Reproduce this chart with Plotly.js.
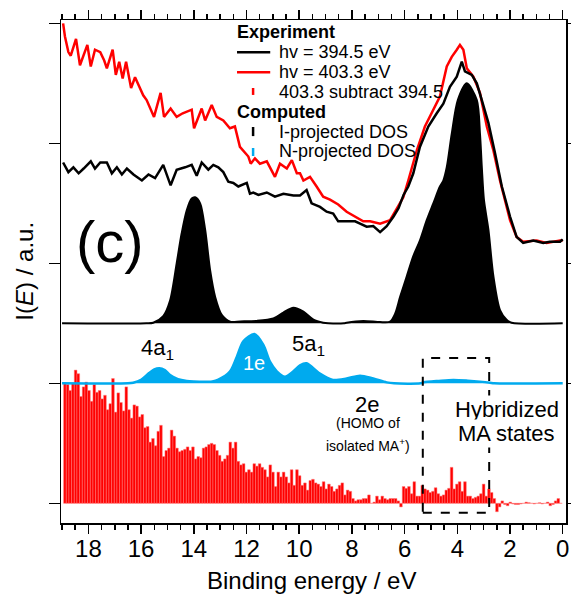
<!DOCTYPE html>
<html>
<head>
<meta charset="utf-8">
<script src="https://cdn.plot.ly/plotly-3.0.1.min.js"></script>
<style>html,body{margin:0;padding:0;background:#fff;}#chart{width:571px;height:600px;}</style>
</head>
<body>
<div id="chart"></div>
<script>
// ---------- data (binding energy in eV, intensities in arbitrary units) ----------
// Experiment hv = 403.3 eV (red line)
const redX = [18.96,18.89,18.76,18.67,18.47,18.32,18.04,17.91,17.75,17.55,
  17.40,17.30,17.08,16.96,16.83,16.70,16.57,16.38,16.23,16.04,
  15.92,15.79,15.51,15.26,15.13,14.88,14.65,14.42,14.08,13.99,
  13.70,13.57,13.32,13.13,12.88,12.63,12.44,12.25,11.93,11.84,
  11.68,11.49,11.23,10.92,10.73,10.47,10.28,10.09,9.97,9.84,
  9.59,9.34,9.09,8.83,8.52,8.20,7.88,7.57,7.31,6.93,
  6.55,6.30,6.05,5.86,5.54,5.23,4.91,4.66,4.40,4.21,
  4.02,3.90,3.77,3.64,3.39,3.14,2.88,2.63,2.38,2.00,
  1.75,1.50,0.99,0.61,0.10,0.0];
const redY = [4.00,3.89,3.76,3.73,3.87,3.65,3.82,3.64,3.78,3.76,
  3.69,3.625,3.78,3.57,3.68,3.54,3.68,3.46,3.55,3.46,
  3.40,3.36,3.22,3.42,3.22,3.29,3.22,3.25,3.28,3.125,
  3.29,3.19,3.32,3.22,3.19,3.125,3.14,2.97,2.89,2.83,
  2.875,2.83,2.85,2.72,2.83,2.79,2.86,2.75,2.75,2.69,
  2.72,2.64,2.555,2.53,2.49,2.43,2.39,2.35,2.35,2.33,
  2.36,2.46,2.55,2.69,2.94,3.14,3.28,3.39,3.64,3.72,
  3.78,3.82,3.78,3.625,3.555,3.42,3.14,2.94,2.69,2.36,
  2.22,2.18,2.19,2.17,2.19,2.19];
// Experiment hv = 394.5 eV (black line)
const blackX = [18.96,18.76,18.57,18.37,18.18,17.91,17.75,17.55,17.30,17.11,
  16.92,16.73,16.54,16.29,15.97,15.72,15.47,15.28,15.16,14.88,
  14.65,14.33,14.08,13.89,13.70,13.45,13.26,13.07,12.88,12.69,
  12.50,12.31,11.99,11.87,11.74,11.55,11.23,10.92,10.60,10.22,
  9.97,9.72,9.53,9.21,8.96,8.71,8.52,8.20,7.88,7.69,
  7.44,7.19,6.93,6.68,6.42,6.23,6.04,5.86,5.67,5.42,
  5.10,4.78,4.53,4.28,4.02,3.83,3.71,3.45,3.26,3.07,
  2.82,2.57,2.31,2.00,1.75,1.50,1.12,0.74,0.49,0.10,0.0];
const blackY = [2.84,2.76,2.80,2.75,2.79,2.85,2.79,2.84,2.84,2.75,
  2.80,2.74,2.79,2.74,2.69,2.74,2.71,2.78,2.82,2.65,
  2.78,2.80,2.82,2.73,2.84,2.78,2.82,2.80,2.76,2.68,
  2.67,2.64,2.67,2.58,2.59,2.57,2.59,2.555,2.58,2.565,
  2.565,2.61,2.50,2.47,2.43,2.415,2.35,2.35,2.35,2.33,
  2.305,2.31,2.26,2.31,2.39,2.46,2.57,2.64,2.75,2.97,
  3.14,3.25,3.33,3.47,3.555,3.68,3.60,3.57,3.50,3.36,
  3.17,2.92,2.64,2.39,2.22,2.17,2.19,2.17,2.18,2.18,2.20];
// 403.3 subtract 394.5 (red bars), first bar at 18.89 eV, step ~0.1 eV towards 0
const diffStart = 18.89;
const diffStep = -0.1012;
const diffY = [1.0,0.99,0.94,1.0,1.11,1.08,0.89,0.97,1.01,0.94,
  0.85,0.99,0.925,0.94,0.87,0.90,0.78,0.83,1.04,0.76,
  0.92,0.84,0.77,0.97,0.78,0.71,0.82,0.81,0.72,0.74,
  0.63,0.64,0.51,0.54,0.48,0.60,0.65,0.39,0.44,0.46,
  0.61,0.56,0.46,0.43,0.44,0.45,0.47,0.44,0.47,0.37,
  0.39,0.38,0.46,0.47,0.49,0.50,0.49,0.44,0.40,0.35,
  0.37,0.40,0.51,0.46,0.51,0.35,0.32,0.33,0.26,0.28,
  0.26,0.33,0.31,0.33,0.30,0.28,0.22,0.32,0.26,0.14,
  0.26,0.22,0.26,0.22,0.17,0.28,0.15,0.28,0.23,
  0.15,0.17,0.11,0.19,0.20,0.17,0.16,0.14,0.18,0.12,
  0.16,0.14,0.10,0.12,0.15,0.17,0.07,0.11,0.10,0.04,
  0.02,0.03,0.03,0.04,0.04,0.07,0.0,0.01,0.06,0.03,
  0.06,0.04,0.03,0.04,0.04,0.04,0.02,-0.03,0.14,0.125,
  0.14,0.08,0.18,0.06,0.06,0.15,0.12,0.11,0.09,0.10,
  0.13,0.08,0.06,0.07,0.11,0.125,0.30,0.12,0.16,0.18,
  0.10,0.18,0.06,0.06,0.04,0.05,0.06,0.08,0.16,0.06,
  0.12,0.09,0.04,-0.07,-0.03,0.02,-0.01,-0.02,0.01,-0.005,
  -0.01,-0.01,-0.005,0.0,0.01,0.005,0.0,-0.005,0.0,0.005,
  -0.005,0.0,0.01,-0.02,-0.01,0.02,0.04,0.0];
// Computed I-projected DOS (black fill)
const idosX = [19.0,15.8,15.54,15.16,14.9,14.65,14.46,14.27,14.08,13.95,
  13.76,13.57,13.38,13.19,12.94,12.62,12.24,11.61,10.98,10.60,
  10.22,9.84,9.46,9.09,8.9,8.3,8.20,7.57,6.93,6.55,
  6.36,6.17,5.92,5.67,5.42,5.16,4.91,4.66,4.53,4.40,
  4.21,3.98,3.64,3.26,3.14,3.07,2.99,2.82,2.63,2.38,
  2.13,1.94,0.0];
const idosY = [0,0,0.005,0.06,0.19,0.5,0.75,0.94,1.04,1.05,
  1.0,0.78,0.44,0.22,0.07,0.014,0.016,0.02,0.04,0.09,
  0.13,0.097,0.03,0.005,0,0,0.005,0.02,0.01,0.014,
  0.08,0.22,0.39,0.56,0.69,0.86,1.0,1.14,1.19,1.30,
  1.58,1.86,2.0,1.86,1.58,1.30,1.03,0.78,0.39,0.11,
  0.03,0.005,0];
// Computed N-projected DOS (blue fill)
const ndosX = [19.0,16.5,16.3,16.0,15.7,15.5,15.31,15.1,14.9,14.6,
  14.27,14.0,13.6,13.3,13.07,12.63,12.37,12.12,11.70,11.36,
  11.11,10.85,10.54,10.22,9.97,9.72,9.23,8.72,8.20,7.69,
  7.19,6.68,6.4,5.4,5.29,4.7,4.15,3.6,3.14,2.76,
  2.6,0.0];
const ndosY = [0,0,0.005,0.03,0.085,0.115,0.125,0.11,0.07,0.035,
  0.02,0.015,0.012,0.015,0.03,0.097,0.22,0.35,0.41,0.32,
  0.18,0.10,0.055,0.10,0.15,0.167,0.083,0.028,0.04,0.064,
  0.04,0.008,0,0,0.008,0.02,0.028,0.022,0.014,0.005,
  0,0];

const xTickVals = [18,16,14,12,10,8,6,4,2,0];
const xTitle = 'Binding energy / eV';
const yTitle = 'I(<i>E</i>) / a.u.';

// ---------- layout helpers ----------
const FONT = "'Liberation Sans', Arial, sans-serif";
const R0 = -0.164, R1 = 4.0275;            // main y range (tick spacing 1 unit)
const rng = off => [R0 - off, R1 - off];   // shifted ranges for stacked baselines

const traces = [
  {type:'bar', x0: diffStart, dx: diffStep, y: diffY, yaxis:'y',
   marker:{color:'#ff0000', line:{color:'#ff7878', width:0.5}}, hoverinfo:'skip'},
  {type:'scatter', mode:'lines', x: ndosX, y: ndosY, yaxis:'y2', fill:'tozeroy',
   fillcolor:'#00aaee', line:{color:'#00aaee', width:2.5, shape:'spline', smoothing:0.8}},
  {type:'scatter', mode:'lines', x: idosX, y: idosY, yaxis:'y3', fill:'tozeroy',
   fillcolor:'#000000', line:{color:'#000000', width:2, shape:'spline', smoothing:0.8}},
  {type:'scatter', mode:'lines', x: redX, y: redY, yaxis:'y4',
   line:{color:'#ff0000', width:2.5}},
  {type:'scatter', mode:'lines', x: blackX, y: blackY, yaxis:'y4',
   line:{color:'#000000', width:2.5}}
];

const ann = (x, y, text, size, extra) => Object.assign({x, y, xref:'x', yref:'y', text, showarrow:false,
  xanchor:'center', yanchor:'middle',
  font:{family:FONT, size, color:'#000'}}, extra || {});

const annotations = [
  ann(17.17, 2.18, '(c)', 58),
  ann(15.39, 1.29, '4a<sub>1</sub>', 22),
  ann(11.70, 1.17, '1e', 20, {font:{family:FONT, size:20, color:'#ffffff'}}),
  ann(9.66, 1.32, '5a<sub>1</sub>', 22),
  ann(7.43, 0.82, '2e', 22),
  ann(7.39, 0.67, '(HOMO of', 14),
  ann(7.39, 0.486, 'isolated MA<sup>+</sup>)', 14),
  ann(2.13, 0.78, 'Hybridized', 22, {bgcolor:'#ffffff', borderpad:1}),
  ann(2.13, 0.58, 'MA states', 22, {bgcolor:'#ffffff', borderpad:1}),
  // legend texts
  ann(12.44, 3.93, '<b>Experiment</b>', 18, {xanchor:'left'}),
  ann(10.84, 3.758, 'hv = 394.5 eV', 18, {xanchor:'left'}),
  ann(10.84, 3.592, 'hv = 403.3 eV', 18, {xanchor:'left'}),
  ann(10.84, 3.43, '403.3 subtract 394.5', 18, {xanchor:'left'}),
  ann(12.44, 3.263, '<b>Computed</b>', 18, {xanchor:'left'}),
  ann(10.84, 3.097, 'I-projected DOS', 18, {xanchor:'left'}),
  ann(10.84, 2.936, 'N-projected DOS', 18, {xanchor:'left'}),
  // axis titles
  {xref:'paper', yref:'paper', x:0.497, y:-0.115, xanchor:'center', yanchor:'middle',
   text:xTitle, showarrow:false, font:{family:FONT, size:24, color:'#000'}},
  {xref:'paper', yref:'paper', x:-0.073, y:0.5, xanchor:'center', yanchor:'middle',
   text:yTitle, showarrow:false, textangle:-90, font:{family:FONT, size:24, color:'#000'}}
];

const shapes = [
  {type:'rect', xref:'x', yref:'y', x0:5.31, x1:2.79, y0:-0.078, y1:1.21,
   line:{color:'#000', width:2, dash:'dash'}, layer:'above'},
  {type:'line', xref:'x', yref:'y', x0:12.36, x1:11.10, y0:3.758, y1:3.758, line:{color:'#000', width:2.5}},
  {type:'line', xref:'x', yref:'y', x0:12.36, x1:11.10, y0:3.592, y1:3.592, line:{color:'#ff0000', width:2.5}},
  {type:'line', xref:'x', yref:'y', x0:11.75, x1:11.75, y0:3.403, y1:3.461, line:{color:'#ff0000', width:2.5}},
  {type:'line', xref:'x', yref:'y', x0:11.75, x1:11.75, y0:3.06, y1:3.136, line:{color:'#000', width:2.5}},
  {type:'line', xref:'x', yref:'y', x0:11.75, x1:11.75, y0:2.894, y1:2.961, line:{color:'#00aaee', width:2.5}}
];

const hiddenY = off => ({overlaying:'y', range:rng(off), visible:false, showgrid:false, zeroline:false, fixedrange:true});

const layout = {
  width:571, height:600,
  margin:{l:61, r:5, t:20, b:77},
  paper_bgcolor:'#fff', plot_bgcolor:'#fff',
  showlegend:false,
  bargap:0,
  font:{family:FONT, color:'#000'},
  xaxis:{range:[19.04,-0.125], tickmode:'array', tickvals:xTickVals,
    ticks:'outside', ticklen:9, tickwidth:1.5, tickcolor:'#000',
    showline:true, linewidth:1.5, linecolor:'#000', mirror:'ticks',
    minor:{dtick:0.5, tick0:0, ticks:'outside', ticklen:5, tickwidth:1.5, tickcolor:'#000', showgrid:false},
    tickfont:{family:FONT, size:24, color:'#000'}, ticklabelstandoff:-5,
    showgrid:false, zeroline:false},
  yaxis:{range:rng(0), tickmode:'linear', tick0:0, dtick:1, ticks:'outside', ticklen:11,
    tickwidth:1.5, tickcolor:'#000', showticklabels:false,
    showline:true, linewidth:1.5, linecolor:'#000', mirror:'ticks',
    showgrid:false, zeroline:false},
  yaxis2: hiddenY(1),
  yaxis3: hiddenY(1.5),
  yaxis4: hiddenY(0),
  annotations, shapes
};

Plotly.newPlot('chart', traces, layout, {staticPlot:true, displayModeBar:false});
</script>
</body>
</html>
